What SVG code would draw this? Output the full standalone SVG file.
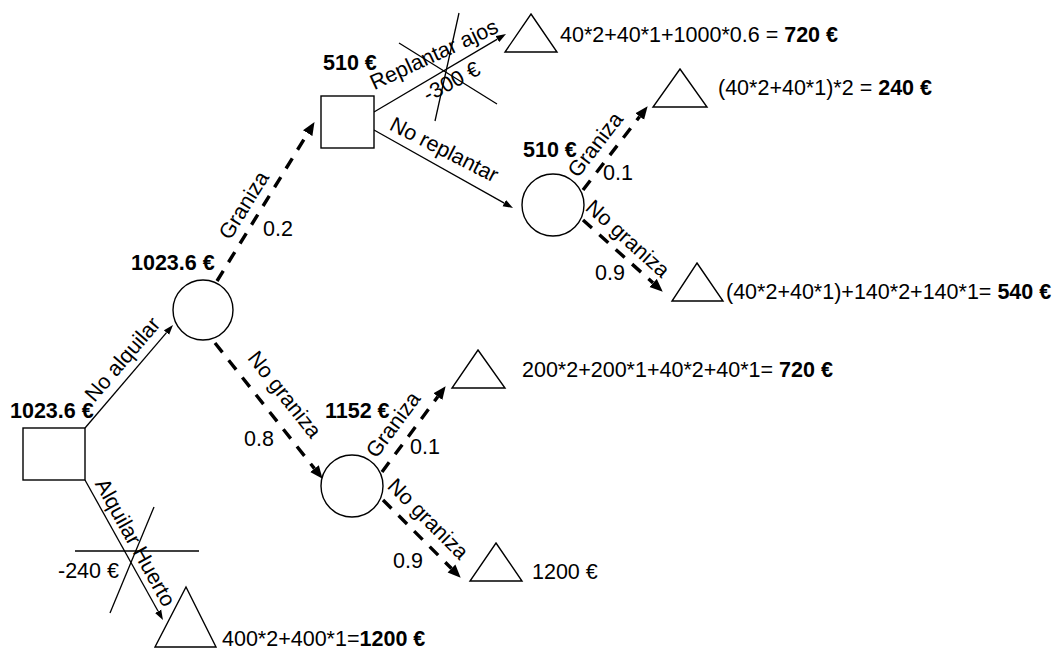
<svg xmlns="http://www.w3.org/2000/svg" width="1057" height="650" viewBox="0 0 1057 650">
<style>
text{font-family:"Liberation Sans",Arial,sans-serif;font-size:21.5px;fill:#000}
.b{font-weight:bold}
.shape{fill:#fff;stroke:#000;stroke-width:1.4}
.solid{fill:none;stroke:#000;stroke-width:1.3}
.dash{fill:none;stroke:#000;stroke-width:3.4;stroke-dasharray:12 10}
.cross{stroke:#000;stroke-width:1.3}
</style>
<defs>
<marker id="ah" viewBox="0 -4 10 8" refX="0" refY="0" markerWidth="10" markerHeight="8" markerUnits="userSpaceOnUse" orient="auto"><path d="M0,-3.5 L10,0 L0,3.5 z" fill="#000"/></marker>
<marker id="ahd" viewBox="0 -6 13 12" refX="0" refY="0" markerWidth="13" markerHeight="12" markerUnits="userSpaceOnUse" orient="auto"><path d="M0,-5.5 L13,0 L0,5.5 z" fill="#000"/></marker>
</defs>
<g id="connectors">
<line class="solid" x1="85" y1="428" x2="166.5" y2="332.6" marker-end="url(#ah)"/>
<line class="solid" x1="85" y1="480" x2="158.1" y2="611.3" marker-end="url(#ah)"/>
<line class="solid" x1="374" y1="112" x2="497.4" y2="39.1" marker-end="url(#ah)"/>
<line class="solid" x1="374" y1="130" x2="504.3" y2="203.1" marker-end="url(#ah)"/>
<line class="dash" x1="217" y1="281" x2="307.7" y2="133.2" marker-end="url(#ahd)"/>
<line class="dash" x1="215" y1="343" x2="314.5" y2="468.6" marker-end="url(#ahd)"/>
<line class="dash" x1="583" y1="190" x2="639.7" y2="116.5" marker-end="url(#ahd)"/>
<line class="dash" x1="583" y1="220" x2="653.1" y2="283" marker-end="url(#ahd)"/>
<line class="dash" x1="382" y1="472" x2="437.9" y2="396.6" marker-end="url(#ahd)"/>
<line class="dash" x1="383" y1="500" x2="451.5" y2="568.5" marker-end="url(#ahd)"/>
<text text-anchor="middle" transform="translate(128,364) rotate(-49.5)">No alquilar</text>
<text text-anchor="middle" transform="translate(129,546) rotate(60.9)">Alquilar Huerto</text>
<line class="cross" x1="75" y1="551" x2="199" y2="551"/>
<line class="cross" x1="154" y1="507" x2="110" y2="613"/>
<text x="58" y="578">-240 €</text>
<text text-anchor="middle" transform="translate(250,209) rotate(-58.3)">Graniza</text>
<text x="263" y="236">0.2</text>
<text text-anchor="middle" transform="translate(279,399) rotate(51.6)">No graniza</text>
<text x="244" y="446">0.8</text>
<text text-anchor="middle" transform="translate(437,61) rotate(-25)">Replantar ajos</text>
<line class="cross" x1="399" y1="43" x2="497" y2="104"/>
<line class="cross" x1="459" y1="13" x2="435" y2="121"/>
<text text-anchor="middle" transform="translate(455,88) rotate(-28)">-300 €</text>
<text text-anchor="middle" transform="translate(441,156) rotate(27)">No replantar</text>
<text text-anchor="middle" transform="translate(601,149) rotate(-52.4)">Graniza</text>
<text x="603" y="180">0.1</text>
<text text-anchor="middle" transform="translate(623,244) rotate(42)">No graniza</text>
<text x="595" y="280">0.9</text>
<text text-anchor="middle" transform="translate(399,429) rotate(-53.5)">Graniza</text>
<text x="410" y="454">0.1</text>
<text text-anchor="middle" transform="translate(423,524) rotate(45)">No graniza</text>
<text x="393" y="568">0.9</text>
</g>
<g id="d1">
<rect class="shape" x="23" y="428" width="62" height="52"/>
<text class="b" x="10" y="418">1023.6 €</text>
</g>
<g id="c1">
<circle class="shape" cx="203" cy="310" r="30"/>
<text class="b" x="131" y="270">1023.6 €</text>
</g>
<g id="d2">
<rect class="shape" x="321" y="96" width="53" height="52"/>
<text class="b" x="323" y="70">510 €</text>
</g>
<g id="c2">
<circle class="shape" cx="553" cy="205" r="31"/>
<text class="b" x="523" y="157">510 €</text>
</g>
<g id="c3">
<circle class="shape" cx="352" cy="486" r="31"/>
<text class="b" x="325" y="418">1152 €</text>
</g>
<g id="t1">
<polygon class="shape" points="531,14 557,52 505,52"/>
<text x="560" y="42">40*2+40*1+1000*0.6 = <tspan class="b">720 €</tspan></text>
</g>
<g id="t2">
<polygon class="shape" points="680,69 707,107 653,107"/>
<text x="718" y="95">(40*2+40*1)*2 = <tspan class="b">240 €</tspan></text>
</g>
<g id="t3">
<polygon class="shape" points="697,263 723,301 672,301"/>
<text x="726" y="299">(40*2+40*1)+140*2+140*1= <tspan class="b">540 €</tspan></text>
</g>
<g id="t4">
<polygon class="shape" points="478,350 505,388 452,388"/>
<text x="522" y="377">200*2+200*1+40*2+40*1= <tspan class="b">720 €</tspan></text>
</g>
<g id="t5">
<polygon class="shape" points="496,543 522,581 470,581"/>
<text x="532" y="579">1200 €</text>
</g>
<g id="t6">
<polygon class="shape" points="186,587 216,647 155,647"/>
<text x="222" y="646">400*2+400*1=<tspan class="b">1200 €</tspan></text>
</g>
</svg>
